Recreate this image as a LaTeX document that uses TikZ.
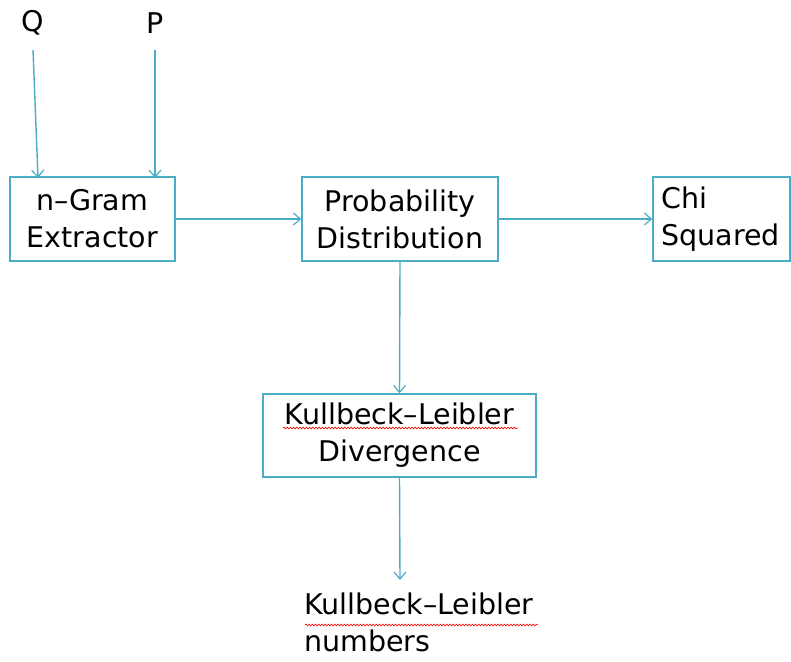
\documentclass[tikz,border=0pt]{standalone}
\usepackage{fontspec}
\setmainfont{DejaVu Sans}
\usetikzlibrary{arrows.meta,decorations.pathmorphing}
\definecolor{linec}{HTML}{4BACC6}
\begin{document}
\begin{tikzpicture}[x=1pt,y=-1pt,
  font=\fontsize{28.5}{37}\selectfont,
  blk/.style={draw=linec,line width=1.4pt,inner sep=0pt,align=center},
  conn/.style={draw=linec,line width=1.4pt,-{Straight Barb[length=7pt,width=12pt,line width=1.2pt]}},
  squig/.style={draw=red,line width=0.6pt,decorate,decoration={snake,amplitude=0.9pt,segment length=3.2pt}},
  lbl/.style={inner sep=0pt}]
\useasboundingbox (0,0) rectangle (791,661);
\node[lbl] (q) at (33,23) {Q};
\node[lbl] (p) at (155,23) {P};
\node[blk,minimum width=165pt,minimum height=84pt] (ngram) at (92.5,219) {n–Gram\\Extractor};
\node[blk,minimum width=196pt,minimum height=84pt] (prob) at (400,219) {Probability\\Distribution};
\node[blk,minimum width=137pt,minimum height=84pt,align=left,text width=120pt] (chi) at (721.5,219) {Chi\\Squared};
\node[blk,minimum width=273pt,minimum height=83pt] (kl) at (399.5,435.5) {Kullbeck–Leibler\\Divergence};
\node[lbl,anchor=north west,align=left] (num) at (304,593) {Kullbeck–Leibler\\numbers};
\coordinate (qin) at (38,178);
\coordinate (pin) at (155,178);
\coordinate (numtop) at (400,580);
\draw[conn] (33,50) -- (qin);
\draw[conn] (155,50) -- (pin);
\draw[conn] (ngram.east) -- (prob.west);
\draw[conn] (prob.east) -- (chi.west);
\draw[conn] (prob.south) -- (kl.north);
\draw[conn] (kl.south) -- (numtop);
\draw[squig] (283,428) -- (518,428);
\draw[squig] (305,625) -- (538,625);
\end{tikzpicture}
\end{document}
